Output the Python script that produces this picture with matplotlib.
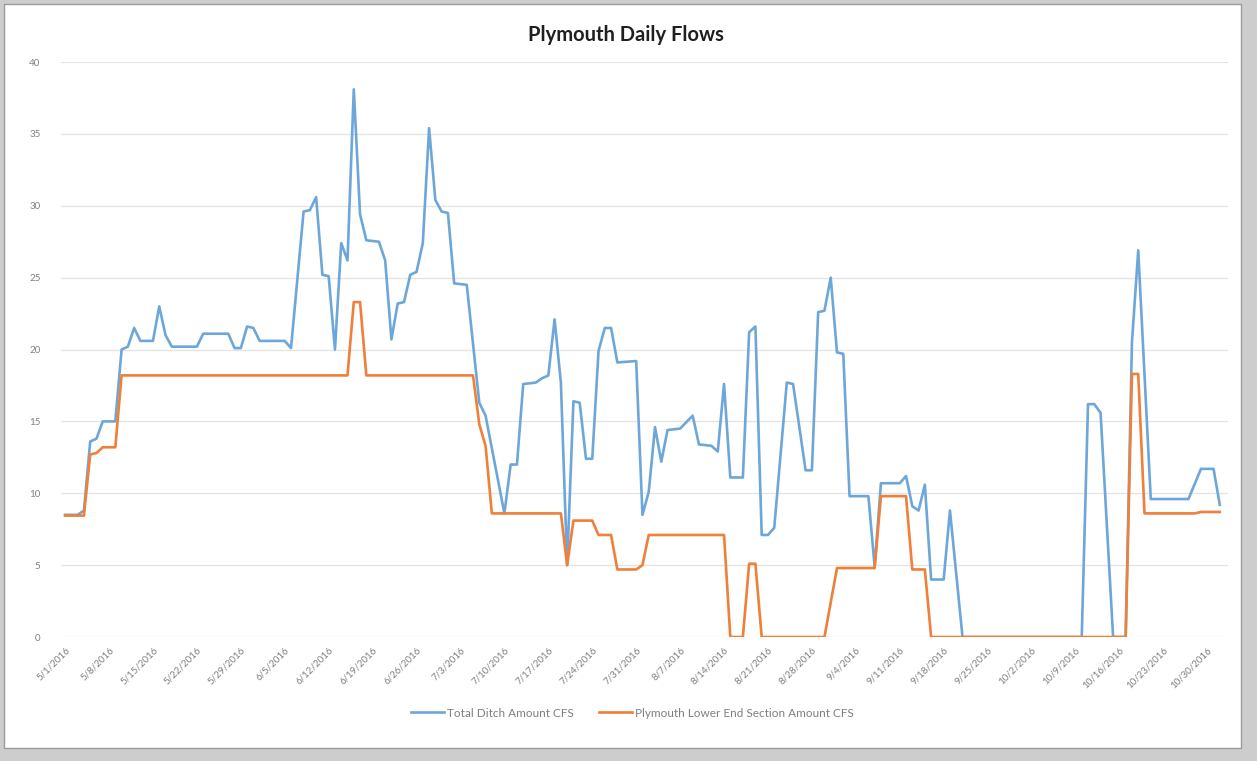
import pandas as pd
import matplotlib.pyplot as plt
from matplotlib.patches import Rectangle

plt.rcParams['font.family'] = ['Lato', 'DejaVu Sans']

start_date = pd.Timestamp('2016-05-01')

# Total Ditch Amount CFS (day offset from 5/1/2016, value)
ditch_days = [0, 2, 3, 4, 5, 6, 8, 9, 10, 11, 12, 14, 15, 16, 17, 21, 22, 26,
              27, 28, 29, 30, 31, 35, 36, 38, 39, 40, 41, 42, 43, 44, 45, 46,
              47, 48, 50, 51, 52, 53, 54, 55, 56, 57, 58, 59, 60, 61, 62, 64,
              66, 67, 70, 71, 72, 73, 75, 76, 77, 78, 79, 80, 81, 82, 83, 84,
              85, 86, 87, 88, 91, 92, 93, 94, 95, 96, 98, 100, 101, 103, 104,
              105, 106, 108, 109, 110, 111, 112, 113, 115, 116, 118, 119, 120,
              121, 122, 123, 124, 125, 128, 129, 130, 133, 134, 135, 136, 137,
              138, 140, 141, 143, 162, 163, 164, 165, 167, 169, 170, 171, 173,
              179, 181, 183, 184]
ditch_cfs = [8.5, 8.5, 8.8, 13.6, 13.8, 15.0, 15.0, 20.0, 20.2, 21.5, 20.6,
             20.6, 23.0, 21.0, 20.2, 20.2, 21.1, 21.1, 20.1, 20.1, 21.6, 21.5,
             20.6, 20.6, 20.1, 29.6, 29.7, 30.6, 25.2, 25.1, 20.0, 27.4, 26.2,
             38.1, 29.4, 27.6, 27.5, 26.2, 20.7, 23.2, 23.3, 25.2, 25.4, 27.4,
             35.4, 30.4, 29.6, 29.5, 24.6, 24.5, 16.3, 15.4, 8.6, 12.0, 12.0,
             17.6, 17.7, 18.0, 18.2, 22.1, 17.7, 5.0, 16.4, 16.3, 12.4, 12.4,
             19.9, 21.5, 21.5, 19.1, 19.2, 8.5, 10.1, 14.6, 12.2, 14.4, 14.5,
             15.4, 13.4, 13.3, 12.9, 17.6, 11.1, 11.1, 21.2, 21.6, 7.1, 7.1,
             7.6, 17.7, 17.6, 11.6, 11.6, 22.6, 22.7, 25.0, 19.8, 19.7, 9.8,
             9.8, 4.9, 10.7, 10.7, 11.2, 9.1, 8.8, 10.6, 4.0, 4.0, 8.8, 0.0,
             0.0, 16.2, 16.2, 15.6, 0.0, 0.0, 20.5, 26.9, 9.6, 9.6, 11.7, 11.7,
             9.2]

# Plymouth Lower End Section Amount CFS
lower_days = [0, 3, 4, 5, 6, 8, 9, 45, 46, 47, 48, 65, 66, 67, 68, 79, 80, 81,
              84, 85, 87, 88, 91, 92, 93, 105, 106, 108, 109, 110, 111, 121,
              123, 129, 130, 134, 135, 137, 138, 169, 170, 171, 172, 180, 181,
              184]
lower_cfs = [8.45, 8.45, 12.7, 12.8, 13.2, 13.2, 18.2, 18.2, 23.3, 23.3, 18.2,
             18.2, 14.8, 13.3, 8.6, 8.6, 5.0, 8.1, 8.1, 7.1, 7.1, 4.7, 4.7,
             5.0, 7.1, 7.1, 0.0, 0.0, 5.1, 5.1, 0.0, 0.0, 4.8, 4.8, 9.8, 9.8,
             4.7, 4.7, 0.0, 0.0, 18.3, 18.3, 8.6, 8.6, 8.7, 8.7]

ditch_dates = start_date + pd.to_timedelta(ditch_days, unit='D')
lower_dates = start_date + pd.to_timedelta(lower_days, unit='D')

fig = plt.figure(figsize=(12.57, 7.61), dpi=100)
fig.patch.set_facecolor('#cdcdcd')
# white chart area inside the scanned frame
fig.patches.append(Rectangle((0.0032, 0.0171), 0.984, 0.9777,
                             transform=fig.transFigure, facecolor='white',
                             edgecolor='#9a9a9a', linewidth=1.0, zorder=-10))

ax = fig.add_axes([0.0488, 0.1629, 0.9281, 0.7556])
ax.set_zorder(1)
ax.patch.set_alpha(0)
ax.plot(ditch_dates, ditch_cfs, color='#6DA7DA', lw=1.9,
        label='Total Ditch Amount CFS')
ax.plot(lower_dates, lower_cfs, color='#F07F3A', lw=1.9,
        label='Plymouth Lower End Section Amount CFS')

ax.set_ylim(0, 40)
ax.set_xlim(start_date - pd.Timedelta(days=0.6), start_date + pd.Timedelta(days=185.3))
ax.set_yticks(range(0, 41, 5))

tick_dates = pd.date_range('2016-05-01', '2016-10-30', freq='7D')
ax.set_xticks(tick_dates)
ax.set_xticklabels([f'{d.month}/{d.day}/{d.year}' for d in tick_dates],
                   rotation=45, ha='right', rotation_mode='anchor')
ax.tick_params(axis='both', length=0, labelsize=7, colors='#7f7f7f')
ax.tick_params(axis='x', pad=6)
ax.tick_params(axis='y', pad=15)

ax.grid(axis='y', color='#e3e3e3', lw=0.9)
for s in ax.spines.values():
    s.set_visible(False)
ax.set_axisbelow(True)

fig.suptitle('Plymouth Daily Flows', x=0.498, y=0.967, fontsize=14.5,
             fontweight='bold', color='#1f1f1f')

fig.legend(loc='center', bbox_to_anchor=(0.503, 0.063), ncol=2, frameon=False,
           fontsize=8.5, labelcolor='#7f7f7f', handlelength=2.8,
           columnspacing=2.2, handletextpad=0.2)

fig.savefig('out.png', dpi=100, facecolor=fig.get_facecolor())
